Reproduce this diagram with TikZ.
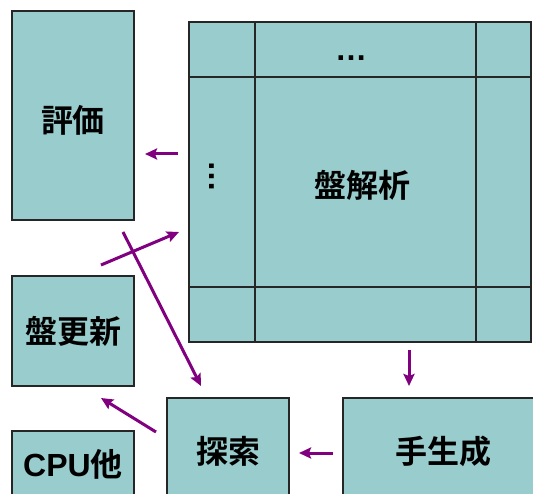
\documentclass[tikz,border=0pt]{standalone}
\usepackage{fontspec}
\usetikzlibrary{arrows.meta,calc}
\newfontfamily\jpfont{Noto Sans CJK JP}[BoldFont={Noto Sans CJK JP Bold}]
\newfontfamily\arialfont{Liberation Sans}
\definecolor{boxfill}{RGB}{153,204,204}
\definecolor{arrowpurple}{RGB}{128,0,128}
\begin{document}
\begin{tikzpicture}[x=1pt,y=-1pt,
  lbl/.style={font=\jpfont\bfseries\fontsize{32}{36}\selectfont},
  box/.style={draw=black!85,line width=1.3pt,fill=boxfill,inner sep=0pt,lbl},
  cellline/.style={draw=black!85,line width=1.3pt},
  flow/.style={draw=arrowpurple,line width=3pt,-{Stealth[length=12pt,width=11pt,inset=2pt]}},
  dots/.style={inner sep=0pt,font=\arialfont\bfseries\fontsize{32}{36}\selectfont}]
\useasboundingbox (0,0) rectangle (533,494);
\clip (0,0) rectangle (533,494);
% boxes
\node[box,minimum width=122pt,minimum height=209pt] (eval) at (73,115.5) {};
\node[lbl] (evaltxt) at (73,120) {評価};
\node[box,minimum width=122pt,minimum height=110pt] (upd) at (73,331) {盤更新};
\node[box,minimum width=122pt,minimum height=66pt] (cpu) at (73,464) {{\arialfont\bfseries CPU}他};
\node[box,minimum width=122pt,minimum height=106pt] (search) at (228,451) {探索};
\node[box,minimum width=200pt,minimum height=106pt] (gen) at (443,451) {手生成};
% grid
\node[box,minimum width=342pt,minimum height=320pt] (grid) at (360,182) {};
\draw[cellline] (255,22) -- (255,342);
\draw[cellline] (476,22) -- (476,342);
\draw[cellline] (189,77) -- (531,77);
\draw[cellline] (189,287) -- (531,287);
\node[lbl] (ana) at (362,185) {盤解析};
\node[dots] (hdots) at (351,58) {…};
\node[dots,rotate=-90] (vdots) at (212,177) {…};
% arrow end points
\coordinate (a1s) at (178,154); \coordinate (a1e) at (145,154);
\coordinate (a2s) at (101,265); \coordinate (a2e) at (179,232);
\coordinate (a3s) at (123,232); \coordinate (a3e) at (201,386);
\coordinate (a4s) at (156,432); \coordinate (a4e) at (101,398);
\coordinate (a5s) at (333,453); \coordinate (a5e) at (299,453);
\coordinate (a6s) at (409,350); \coordinate (a6e) at (409,386);
\draw[flow] (a1s) -- (a1e);
\draw[flow] (a2s) -- (a2e);
\draw[flow] (a3s) -- (a3e);
\draw[flow] (a4s) -- (a4e);
\draw[flow] (a5s) -- (a5e);
\draw[flow] (a6s) -- (a6e);
\end{tikzpicture}
\end{document}
